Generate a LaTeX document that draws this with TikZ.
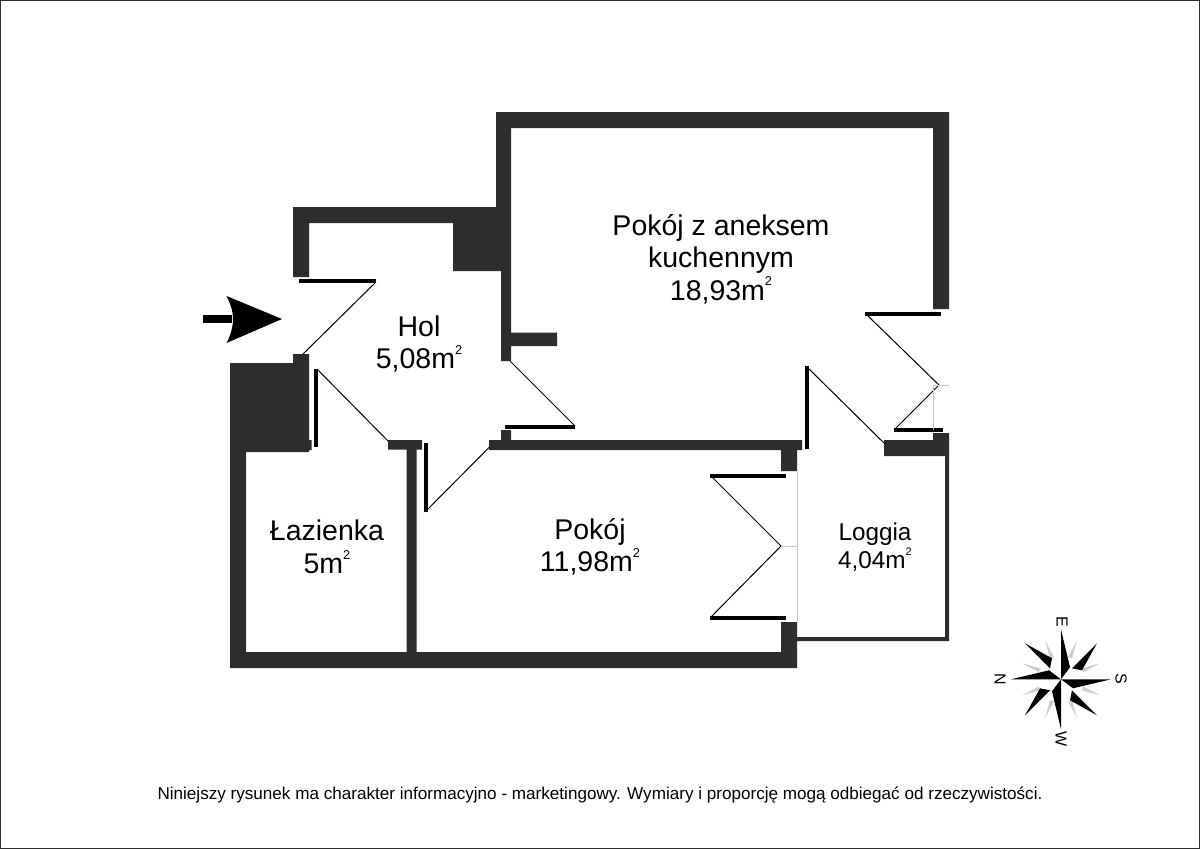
\documentclass[tikz,border=0pt]{standalone}
\usepackage{fontspec}
\setmainfont{Liberation Sans}
\definecolor{wallc}{HTML}{2D2D2D}
\definecolor{sillc}{HTML}{C8C8C8}
\newcommand{\sqm}{m\raisebox{.95ex}{\scalebox{.45}{2}}}
\tikzset{
  wall/.style={fill=wallc,draw=none},
  leaf/.style={line width=4pt,black},
  swing/.style={line width=1pt,black},
  sill/.style={line width=.8pt,sillc},
  roomlabel/.style={align=center,inner sep=0pt,font=\fontsize{28.5}{32.5}\selectfont},
  smalllabel/.style={align=center,inner sep=0pt,font=\fontsize{24.3}{27.5}\selectfont},
  compassletter/.style={rotate=-90,inner sep=0pt,font=\fontsize{16}{16}\selectfont},
}
\begin{document}
\begin{tikzpicture}[x=1pt,y=-1pt]
    \useasboundingbox (0,0) rectangle (1200,849);
    \draw[line width=1.5pt,wallc] (0,0) rectangle (1200,849);
    %% walls
    \fill[wall] (496,112) -| (949,309) -- (933,309) |- (511,128) -- (511,332.5)
      -- (557,332.5) -- (557,346) -- (511,346) -- (511,361) -- (501,361)
      -- (501,271) -- (453,271) -- (453,223) -- (309,223) -- (309,277)
      -- (293,277) -- (293,207) -- (496,207) -- cycle;
    \fill[wall] (293,354) -- (309,354) -- (309,440) -- (311.5,440) -- (311.5,450)
      -- (309,450) -- (309,452) -- (246,452) -- (246,652) -- (406.5,652)
      -- (406.5,449.5) -- (388,449.5) -- (388,440) -- (422,440) -- (422,449.5)
      -- (416.5,449.5) -- (416.5,652) -- (781,652) -- (781,622) -- (797,622)
      -- (797,668) -- (230,668) -- (230,363) -- (293,363) -- cycle;
    \fill[wall] (489,440) -- (501,440) -- (501,430) -- (511,430) -- (511,440)
      -- (802,440) -- (802,450) -- (797,450) -- (797,471) -- (781,471)
      -- (781,450) -- (489,450) -- cycle;
    \fill[wall] (884,440) -- (933,440) -- (933,433) -- (949,433) -- (949,641)
      -- (797,641) -- (797,637) -- (945,637) -- (945,456) -- (884,456) -- cycle;
    %% doors
    \draw[leaf] (299,281) -- (376,281);
    \draw[swing] (376,282) -- (303,354);
    \draw[leaf] (316,369) -- (316,447);
    \draw[swing] (317,369) -- (388,441);
    \draw[leaf] (425.5,443) -- (425.5,512);
    \draw[swing] (426,511) -- (489.5,447);
    \draw[leaf] (505,427) -- (575,427);
    \draw[swing] (510,361) -- (575,426);
    \draw[leaf] (865,314) -- (941,314);
    \draw[swing] (866,314) -- (939,385) -- (894,430);
    \draw[leaf] (894,430) -- (943,430);
    \draw[leaf] (806.5,366) -- (806.5,449);
    \draw[swing] (807,367) -- (884,443);
    \draw[leaf] (710,475.5) -- (786,475.5);
    \draw[leaf] (710,617.5) -- (786,617.5);
    \draw[swing] (711,476) -- (781,546) -- (711,617);
    %% window lines
    \draw[sill] (933,385) -- (933,430) (933,385) -- (949,385);
    \draw[sill] (797,471) -- (797,622) (781,546) -- (797,546);
    %% entrance arrow
    \fill[black] (203,315) -- (232,315) -- (232,323) -- (203,323) -- cycle;
    \fill[black] (282,319) -- (226.5,296) .. controls (231,305) and (233,312) .. (233,319)
      .. controls (233,326) and (231,335) .. (226.5,343) -- cycle;
    %% room labels
    \node[roomlabel] (kitchen) at (721,259) {Pokój z aneksem\\kuchennym\\18,93\sqm};
    \node[roomlabel] (hall) at (419,344) {Hol\\5,08\sqm};
    \node[roomlabel] (bath) at (327,547) {Łazienka\\5\sqm};
    \node[roomlabel] (room) at (590,547) {Pokój\\11,98\sqm};
    \node[smalllabel] (loggia) at (875,547) {Loggia\\4,04\sqm};
    \node[inner sep=0pt,font=\fontsize{17.1}{20}\selectfont] (note) at (600,794.5)
      {Niniejszy rysunek ma charakter informacyjno - marketingowy. Wymiary i proporcję mogą odbiegać od rzeczywistości.};
    %% compass
    \begin{scope}[shift={(1061,679.3)}]
      \foreach \a in {0,90,180,270} {
        \begin{scope}[rotate=\a]
          \fill[gray!40] (16,-39) -- (7,-22) -- (11,-21) -- cycle;
          \fill[gray!40] (39,-16) -- (22,-7) -- (21,-11) -- cycle;
          \fill[black] (36,-36) -- (11,-11) -- (21,-9) -- cycle;
          \fill[white] (0,0) -- (0,-50) -- (-9,-11) -- cycle;
          \fill[black] (0,0) -- (0,-50) -- (9,-12) -- cycle;
        \end{scope}
      }
    \end{scope}
    \node[compassletter] (north) at (1000,679) {N};
    \node[compassletter] (south) at (1121,679) {S};
    \node[compassletter] (east) at (1062,622) {E};
    \node[compassletter] (west) at (1061,739) {W};
  \end{tikzpicture}
\end{document}
